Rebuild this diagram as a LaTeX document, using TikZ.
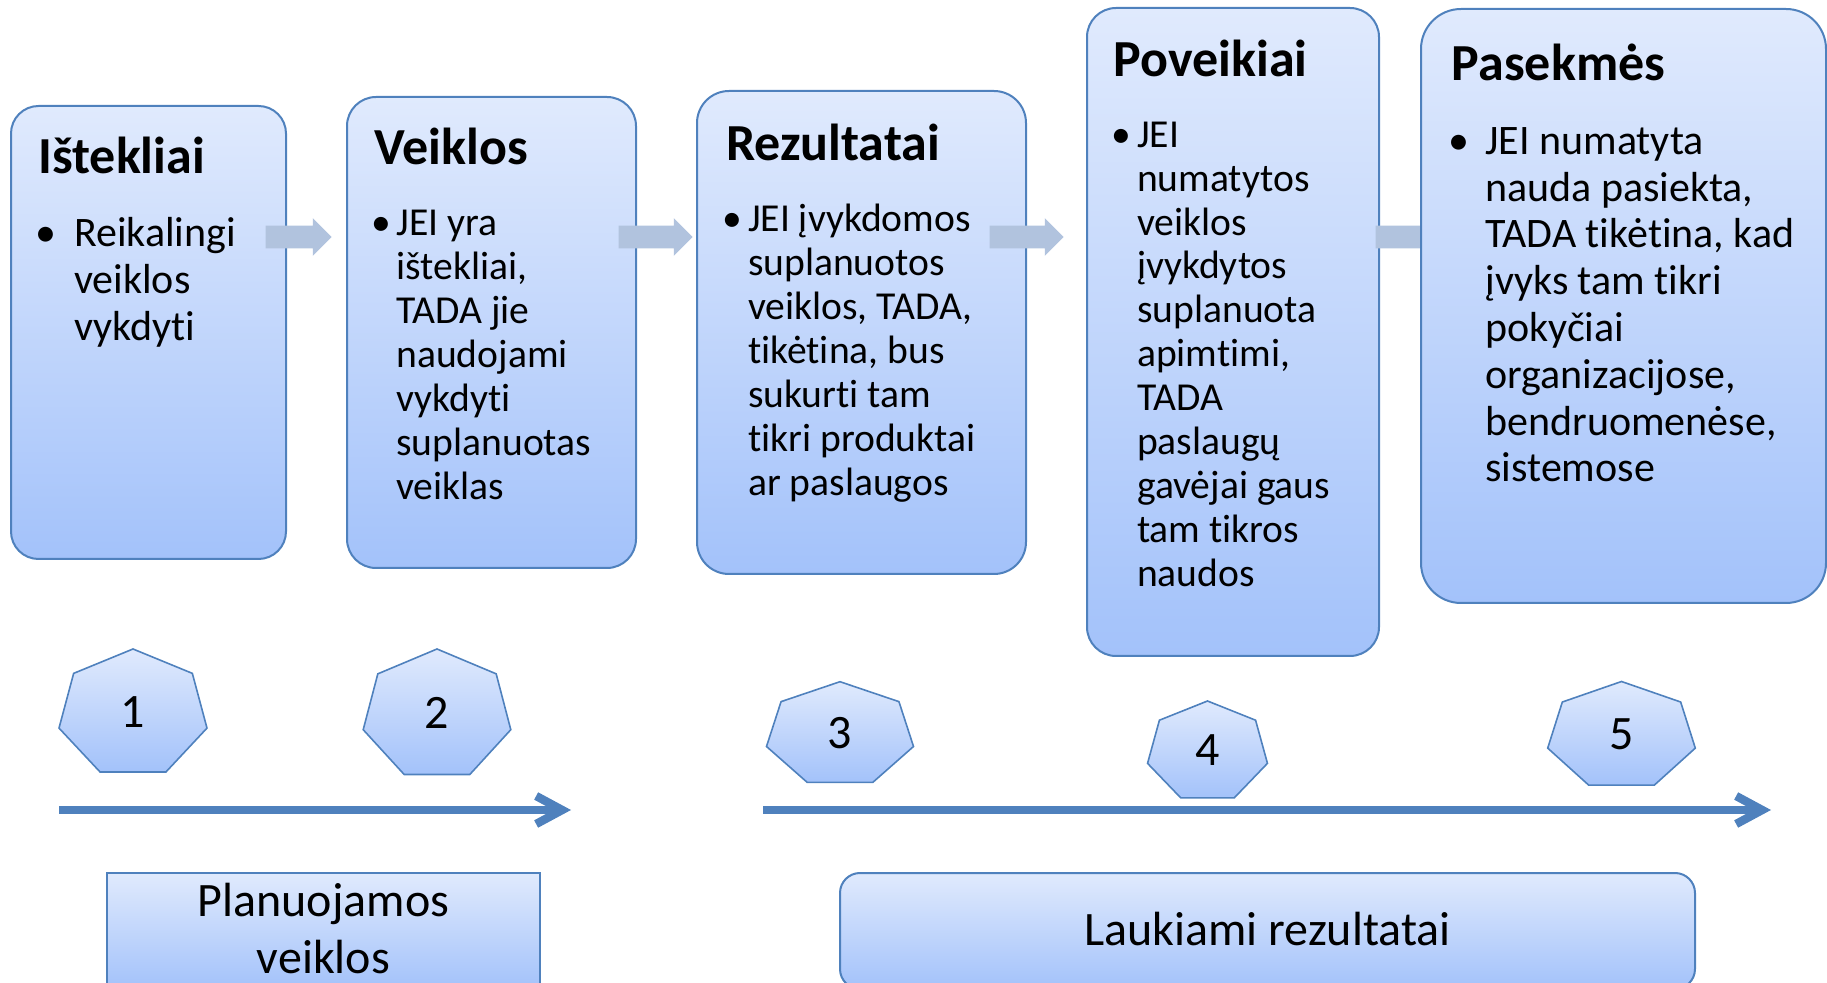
\documentclass[tikz,border=0pt]{standalone}
\usepackage{fontspec}
\setmainfont{Carlito}[Ligatures=NoCommon]
\usetikzlibrary{arrows.meta}
\usetikzlibrary{shapes.arrows}

\definecolor{boxtop}{RGB}{224,234,253}
\definecolor{boxbot}{RGB}{163,194,250}
\definecolor{boxline}{RGB}{79,129,189}
\definecolor{flowgrey}{RGB}{177,195,222}
\definecolor{timeblue}{RGB}{79,129,189}

% heptagon: centre x, centre y, radius x, radius y
\newcommand{\heptpath}[4]{%
  \draw[heptbox] ({#1},{#2-#4}) \foreach \k in {1,...,6} {-- ({#1+#3*cos(90+\k*360/7)},{#2-#4*sin(90+\k*360/7)})} -- cycle;}

\begin{document}
\begin{tikzpicture}[x=0.5pt,y=-0.5pt,>=latex,
  procbox/.style={draw=boxline,line width=1pt,top color=boxtop,bottom color=boxbot,inner sep=0pt},
  heptbox/.style={draw=boxline,line width=0.8pt,top color=boxtop,bottom color=boxbot},
  flowarr/.style={single arrow,fill=flowgrey,draw=none,inner xsep=0pt,inner ysep=5.5pt,single arrow head extend=3.75pt},
  ttl/.style={anchor=base west,inner sep=0pt,font=\fontsize{26pt}{30pt}\selectfont\bfseries},
  bodyA/.style={anchor=base west,inner sep=0pt,font=\fontsize{21pt}{23.4pt}\selectfont},
  bodyB/.style={anchor=base west,inner sep=0pt,font=\fontsize{19.8pt}{21.95pt}\selectfont},
  bulA/.style={anchor=base,inner sep=0pt,font=\fontsize{21pt}{23.4pt}\selectfont},
  bulB/.style={anchor=base,inner sep=0pt,font=\fontsize{19.8pt}{21.95pt}\selectfont},
  numtxt/.style={inner sep=0pt,font=\fontsize{24pt}{28pt}\selectfont},
  bottxt/.style={anchor=base,inner sep=0pt,font=\fontsize{24pt}{28.5pt}\selectfont},
  timeline/.style={draw=timeblue,line width=4.2pt,-{Straight Barb[length=13pt,width=14pt]}},
]
\useasboundingbox (0,0) rectangle (1827,983);
\clip (0,0) rectangle (1827,983);
%%
\node (box_1) [procbox,minimum width=137.5pt,minimum height=226.5pt,rounded corners=13.75pt] at (148.5,332.5) {};
  \node (box_2) [procbox,minimum width=144.5pt,minimum height=235.5pt,rounded corners=14.5pt] at (491.5,332.5) {};
  \node (box_3) [procbox,minimum width=164.5pt,minimum height=241.5pt,rounded corners=16pt] at (861.5,332.5) {};
  \node (box_4) [procbox,minimum width=146pt,minimum height=324pt,rounded corners=14.5pt] at (1233,332) {};
  \node (arr_1) [flowarr,minimum height=33pt] at (293,237) {};
  \node (arr_2) [flowarr,minimum height=37pt] at (650,237) {};
  \node (arr_3) [flowarr,minimum height=37pt] at (1021,237) {};
  \node (arr_4) [flowarr,minimum height=37pt] at (1407,237) {};
  \node (box_5) [procbox,minimum width=202.5pt,minimum height=297pt,rounded corners=20pt] at (1623.5,306) {};
%
  \node (ttl_1) [ttl] at (38,174) {Ištekliai};
  \node (bul_1) [bulA] at (45.5,246.7) {•};
  \node (txt_1) [bodyA] at (73.7,246.7) {\parbox[t]{106pt}{\raggedright Reikalingi\\veiklos\\vykdyti}};
  \node (ttl_2) [ttl] at (374,165) {Veiklos};
  \node (bul_2) [bulB] at (381,235.7) {•};
  \node (txt_2) [bodyB] at (396,235.7) {\parbox[t]{118pt}{\raggedright JEI yra\\ištekliai,\\TADA jie\\naudojami\\vykdyti\\suplanuotas\\veiklas}};
  \node (ttl_3) [ttl] at (725.7,160.7) {Rezultatai};
  \node (bul_3) [bulB] at (732,231.7) {•};
  \node (txt_3) [bodyB] at (747.7,231.7) {\parbox[t]{137pt}{\raggedright JEI įvykdomos\\suplanuotos\\veiklos, TADA,\\tikėtina, bus\\sukurti tam\\tikri produktai\\ar paslaugos}};
  \node (ttl_4) [ttl] at (1113.4,76.8) {Poveikiai};
  \node (bul_4) [bulB] at (1121,147.3) {•};
  \node (txt_4) [bodyB] at (1136.7,147.3) {\parbox[t]{119pt}{\raggedright JEI\\numatytos\\veiklos\\įvykdytos\\suplanuota\\apimtimi,\\TADA\\paslaugų\\gavėjai gaus\\tam tikros\\naudos}};
  \node (ttl_5) [ttl] at (1451.4,81) {Pasekmės};
  \node (bul_5) [bulA] at (1458.8,154.4) {•};
  \node (txt_5) [bodyA] at (1485,154.4) {\parbox[t]{168pt}{\raggedright JEI numatyta\\nauda pasiekta,\\TADA tikėtina, kad\\įvyks tam tikri\\pokyčiai\\organizacijose,\\bendruomenėse,\\sistemose}};
%
  \heptpath{133}{713.7}{75.9}{64.7}
  \heptpath{437}{715}{75.7}{66}
  \heptpath{840}{734.7}{75.4}{53}
  \heptpath{1207.5}{752}{61.5}{51}
  \heptpath{1621.5}{736}{75.7}{54.5}
  \node (num_1) [numtxt] at (133,712) {1};
  \node (num_2) [numtxt] at (437,713) {2};
  \node (num_3) [numtxt] at (840,733) {3};
  \node (num_4) [numtxt] at (1207.5,750) {4};
  \node (num_5) [numtxt] at (1621.5,734) {5};
%
  \coordinate (tl_1s) at (59,810);
  \coordinate (tl_1e) at (571,810);
  \coordinate (tl_2s) at (763,810);
  \coordinate (tl_2e) at (1771,810);
  \draw [timeline] (tl_1s) -- (tl_1e);
  \draw [timeline] (tl_2s) -- (tl_2e);
%
  \node (box_6) [procbox,minimum width=216.5pt,minimum height=58pt] at (323.5,931) {};
  \node (box_7) [procbox,minimum width=427.5pt,minimum height=58pt,rounded corners=10pt] at (1267.5,931) {};
  \node (lab_6) [bottxt] at (323.5,916) {\parbox[t]{200pt}{\centering Planuojamos\\veiklos}};
  \node (lab_7) [bottxt] at (1267.5,945) {Laukiami rezultatai};
%
\end{tikzpicture}
\end{document}
